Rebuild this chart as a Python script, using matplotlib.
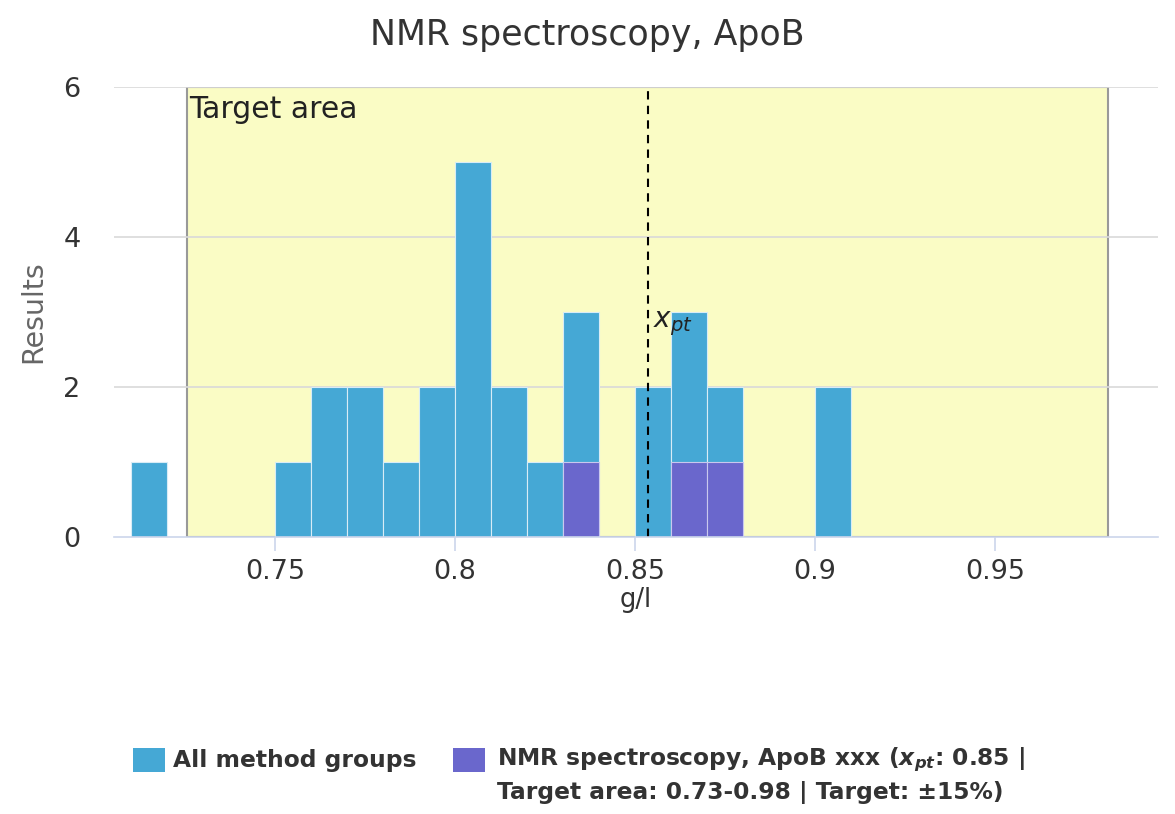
import matplotlib
matplotlib.use("Agg")
import matplotlib.pyplot as plt
from matplotlib.patches import Rectangle
import numpy as np

# ---- data ----
bin_left = [0.71, 0.72, 0.73, 0.74, 0.75, 0.76, 0.77, 0.78, 0.79, 0.80,
            0.81, 0.82, 0.83, 0.84, 0.85, 0.86, 0.87, 0.88, 0.89, 0.90]
all_counts = [1, 0, 0, 0, 1, 2, 2, 1, 2, 5, 2, 1, 3, 0, 2, 3, 2, 0, 0, 2]
nmr_counts = [0, 0, 0, 0, 0, 0, 0, 0, 0, 0, 0, 0, 1, 0, 0, 1, 1, 0, 0, 0]
bin_width = 0.01
x_pt = 0.8535
target_low = 0.7255
target_high = 0.9815
x_ticks = [0.75, 0.8, 0.85, 0.9, 0.95]
x_tick_labels = ["0.75", "0.8", "0.85", "0.9", "0.95"]
y_ticks = [0, 2, 4, 6]

BLUE = "#45a8d5"
PURPLE = "#6a67cc"
YELLOW = "#fafcc5"
GRID = "#d9d9d9"
AXIS = "#ccd6eb"
TXT = "#333333"

plt.rcParams['font.family'] = ['DejaVu Sans']

W, H = 1175, 814
fig = plt.figure(figsize=(W / 100, H / 100), dpi=100)
ax = fig.add_axes([114 / W, 1 - 537 / H, (1158 - 114) / W, (537 - 87) / H])

ax.set_xlim(0.7053, 0.9953)
ax.set_ylim(0, 6)

# target area
ax.add_patch(Rectangle((target_low, 0), target_high - target_low, 6,
                       facecolor=YELLOW, edgecolor="#999999", linewidth=1.5, zorder=1))

# gridlines
for yv in y_ticks[1:]:
    ax.axhline(yv, color=GRID, linewidth=1.2, zorder=1.5)

# bars
ax.bar(bin_left, all_counts, width=bin_width, align='edge', color=BLUE,
       edgecolor="#d8ecf6", linewidth=0.8, zorder=2)
ax.bar(bin_left, nmr_counts, width=bin_width, align='edge', color=PURPLE,
       edgecolor="#c9c8ee", linewidth=0.8, zorder=3)

# x_pt line
ax.plot([x_pt, x_pt], [0, 6], color="black", linestyle=(0, (4, 3)), linewidth=1.5, zorder=4)
ax.text(x_pt + 0.0015, 2.85, r"$x_{pt}$", fontsize=20, color="#222222",
        ha='left', va='center', zorder=5)

ax.text(target_low + 0.0008, 5.7, "Target area", fontsize=21.5, color="#222222",
        ha='left', va='center', zorder=5)

# axes styling
for s in ['top', 'right', 'left']:
    ax.spines[s].set_visible(False)
ax.spines['bottom'].set_color(AXIS)
ax.spines['bottom'].set_linewidth(1.2)
ax.spines['bottom'].set_zorder(6)

ax.set_xticks(x_ticks)
ax.set_xticklabels(x_tick_labels)
ax.set_yticks(y_ticks)
ax.tick_params(axis='x', colors=AXIS, length=10, width=1.2, pad=6, labelsize=19.5,
               labelcolor=TXT)
ax.tick_params(axis='y', length=0, pad=24, labelsize=19.5, labelcolor=TXT)

ax.set_xlabel("g/l", fontsize=18.5, color=TXT, labelpad=1)
ax.set_ylabel("Results", fontsize=20.5, color="#666666", labelpad=12)

fig.text(0.5, 1 - 35 / H, "NMR spectroscopy, ApoB", fontsize=25, color=TXT,
         ha='center', va='center')

# legend (manual)
def fx(px):
    return px / W

def fy(py):
    return 1 - py / H

fig.add_artist(Rectangle((fx(133), fy(772)), 32 / W, 24 / H, facecolor=BLUE,
                         edgecolor='none', transform=fig.transFigure))
fig.text(fx(173), fy(760), "All method groups", fontsize=16.8, fontweight='bold',
         color=TXT, ha='left', va='center')
fig.add_artist(Rectangle((fx(453), fy(772)), 32 / W, 24 / H, facecolor=PURPLE,
                         edgecolor='none', transform=fig.transFigure))
fig.text(fx(497), fy(760), r"NMR spectroscopy, ApoB xxx ($\mathbfit{x}_{\mathbfit{pt}}$: 0.85 |",
         fontsize=16.8, fontweight='bold', color=TXT, ha='left', va='center')
fig.text(fx(497), fy(793), "Target area: 0.73-0.98 | Target: ±15%)",
         fontsize=16.8, fontweight='bold', color=TXT, ha='left', va='center')

fig.savefig("out.png", dpi=100, facecolor='white')
